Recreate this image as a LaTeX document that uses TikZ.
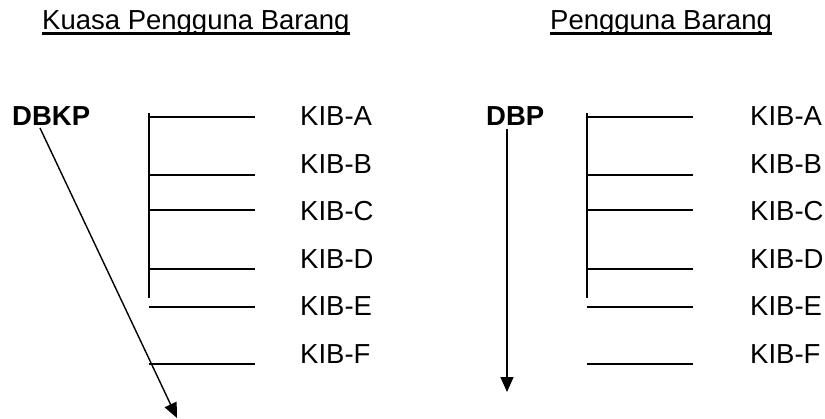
\documentclass[tikz,border=0pt]{standalone}
\usepackage{fontspec}
\setmainfont{Liberation Sans}
\usetikzlibrary{arrows.meta,calc}
\begin{document}
\begin{tikzpicture}[x=1pt,y=-1pt,
  txt/.style={inner sep=0pt,anchor=base west,font=\fontsize{27.5}{33}\selectfont},
  btxt/.style={txt,font=\fontsize{27.5}{33}\selectfont\bfseries},
  ln/.style={line width=1.8pt},
  arr/.style={line width=1.4pt,-{Triangle[length=15pt,width=13pt]}},
  uline/.style={line width=2.8pt}]
\useasboundingbox (0,0) rectangle (825,418);
% titles
\node[txt] (t1) at (42,29) {Kuasa Pengguna Barang};
\node[txt] (t2) at (550,29) {Pengguna Barang};
\draw[uline] ($(t1.base west)+(0,4.5)$) -- ($(t1.base east)+(0,4.5)$);
\draw[uline] ($(t2.base west)+(0,4.5)$) -- ($(t2.base east)+(0,4.5)$);
% left group
\node[btxt] (dbkp) at (12,125) {DBKP};
\coordinate (s1) at (40,128);
\coordinate (e1) at (177,418);
\draw[arr] (s1) -- (e1);
\coordinate (v1a) at (149,113);
\coordinate (v1b) at (149,298);
\draw[ln] (v1a) -- (v1b);
\foreach \n/\y/\b in {A/117/125,B/175/173,C/210/220,D/269/268,E/307/315,F/364/363}{
  \coordinate (l\n a) at (149,\y);
  \coordinate (l\n b) at (255,\y);
  \draw[ln] (l\n a) -- (l\n b);
  \node[txt] (kl\n) at (300,\b) {KIB-\n};
}
% right group
\node[btxt] (dbp) at (486,125) {DBP};
\coordinate (s2) at (507,129);
\coordinate (e2) at (507,392);
\draw[arr] (s2) -- (e2);
\coordinate (v2a) at (587,113);
\coordinate (v2b) at (587,298);
\draw[ln] (v2a) -- (v2b);
\foreach \n/\y/\b in {A/117/125,B/175/173,C/210/220,D/269/268,E/307/315,F/364/363}{
  \coordinate (r\n a) at (587,\y);
  \coordinate (r\n b) at (693,\y);
  \draw[ln] (r\n a) -- (r\n b);
  \node[txt] (kr\n) at (750,\b) {KIB-\n};
}
\end{tikzpicture}
\end{document}
